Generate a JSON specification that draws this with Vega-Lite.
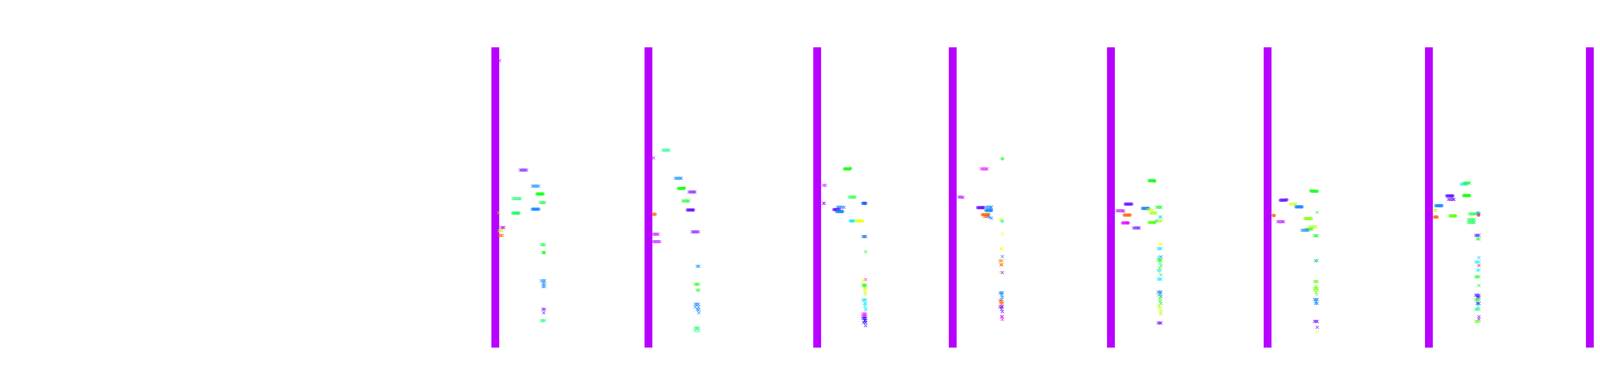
{
  "$schema": "https://vega.github.io/schema/vega-lite/v6.json",
  "width": 6000,
  "height": 1000,
  "autosize": {"type": "fit", "contains": "padding"},
  "padding": 0,
  "background": "white",
  "config": {"view": {"stroke": null}},
  "datasets": {
    "cols": [
      {"x": 1258, "x2": 1278, "y": 121, "y2": 889, "h": 283},
      {"x": 1650, "x2": 1670, "y": 121, "y2": 889, "h": 283},
      {"x": 2082, "x2": 2102, "y": 121, "y2": 889, "h": 283},
      {"x": 2429, "x2": 2449, "y": 121, "y2": 889, "h": 283},
      {"x": 2834, "x2": 2854, "y": 121, "y2": 889, "h": 283},
      {"x": 3235, "x2": 3255, "y": 121, "y2": 889, "h": 283},
      {"x": 3648, "x2": 3668, "y": 121, "y2": 889, "h": 283},
      {"x": 4060, "x2": 4080, "y": 121, "y2": 889, "h": 283},
      {"x": 4473, "x2": 4493, "y": 121, "y2": 889, "h": 283},
      {"x": 4859, "x2": 4879, "y": 121, "y2": 889, "h": 283}
    ],
    "pts": [
      {"x": 1279, "y": 155, "h": 283, "s": "x"},
      {"x": 1332, "y": 435, "h": 265, "s": "x"}, {"x": 1336, "y": 435, "h": 265, "s": "x"}, {"x": 1340, "y": 435, "h": 265, "s": "x"}, {"x": 1344, "y": 435, "h": 265, "s": "x"}, {"x": 1348, "y": 435, "h": 265, "s": "x"},
      {"x": 1363, "y": 476, "h": 210, "s": "x"}, {"x": 1367, "y": 476, "h": 210, "s": "x"}, {"x": 1371, "y": 476, "h": 210, "s": "x"}, {"x": 1375, "y": 476, "h": 210, "s": "x"}, {"x": 1379, "y": 476, "h": 210, "s": "x"},
      {"x": 1375, "y": 496, "h": 120, "s": "o"}, {"x": 1379, "y": 496, "h": 120, "s": "o"}, {"x": 1383, "y": 496, "h": 120, "s": "o"}, {"x": 1387, "y": 496, "h": 120, "s": "o"}, {"x": 1390, "y": 496, "h": 120, "s": "o"},
      {"x": 1313, "y": 508, "h": 145, "s": "x"}, {"x": 1317, "y": 508, "h": 145, "s": "x"}, {"x": 1321, "y": 508, "h": 145, "s": "x"}, {"x": 1325, "y": 508, "h": 145, "s": "x"}, {"x": 1329, "y": 508, "h": 145, "s": "x"}, {"x": 1332, "y": 508, "h": 145, "s": "x"},
      {"x": 1383, "y": 518, "h": 125, "s": "x"}, {"x": 1387, "y": 518, "h": 125, "s": "x"}, {"x": 1391, "y": 518, "h": 125, "s": "x"}, {"x": 1394, "y": 518, "h": 125, "s": "x"},
      {"x": 1363, "y": 535, "h": 210, "s": "o"}, {"x": 1367, "y": 535, "h": 210, "s": "o"}, {"x": 1371, "y": 535, "h": 210, "s": "o"}, {"x": 1375, "y": 535, "h": 210, "s": "o"}, {"x": 1379, "y": 535, "h": 210, "s": "o"},
      {"x": 1277, "y": 544, "h": 75, "s": "x"},
      {"x": 1313, "y": 545, "h": 140, "s": "o"}, {"x": 1317, "y": 545, "h": 140, "s": "o"}, {"x": 1321, "y": 545, "h": 140, "s": "o"}, {"x": 1325, "y": 545, "h": 140, "s": "o"}, {"x": 1328, "y": 545, "h": 140, "s": "o"},
      {"x": 1283, "y": 582, "h": 283, "s": "x"}, {"x": 1287, "y": 582, "h": 283, "s": "x"}, {"x": 1290, "y": 582, "h": 283, "s": "x"},
      {"x": 1278, "y": 590, "h": 75, "s": "x"}, {"x": 1281, "y": 590, "h": 75, "s": "x"}, {"x": 1285, "y": 590, "h": 75, "s": "x"},
      {"x": 1278, "y": 602, "h": 20, "s": "x"}, {"x": 1282, "y": 602, "h": 20, "s": "x"}, {"x": 1286, "y": 602, "h": 20, "s": "x"},
      {"x": 1386, "y": 626, "h": 130, "s": "x"}, {"x": 1390, "y": 626, "h": 130, "s": "x"}, {"x": 1394, "y": 626, "h": 130, "s": "x"},
      {"x": 1390, "y": 646, "h": 120, "s": "x"}, {"x": 1392, "y": 646, "h": 120, "s": "x"}, {"x": 1394, "y": 646, "h": 120, "s": "x"},
      {"x": 1386, "y": 718, "h": 210, "s": "x"}, {"x": 1391, "y": 718, "h": 210, "s": "x"}, {"x": 1394, "y": 718, "h": 210, "s": "x"}, {"x": 1390, "y": 726, "h": 210, "s": "x"}, {"x": 1394, "y": 726, "h": 210, "s": "x"}, {"x": 1390, "y": 733, "h": 210, "s": "x"}, {"x": 1394, "y": 733, "h": 210, "s": "x"},
      {"x": 1390, "y": 791, "h": 265, "s": "x"}, {"x": 1394, "y": 791, "h": 265, "s": "x"}, {"x": 1392, "y": 800, "h": 265, "s": "x"},
      {"x": 1386, "y": 820, "h": 145, "s": "x"}, {"x": 1390, "y": 820, "h": 145, "s": "x"}, {"x": 1394, "y": 820, "h": 145, "s": "x"},

      {"x": 1697, "y": 384, "h": 150, "s": "x"}, {"x": 1701, "y": 384, "h": 150, "s": "x"}, {"x": 1705, "y": 384, "h": 150, "s": "x"}, {"x": 1709, "y": 384, "h": 150, "s": "x"}, {"x": 1713, "y": 384, "h": 150, "s": "x"},
      {"x": 1673, "y": 404, "h": 283, "s": "x"},
      {"x": 1729, "y": 456, "h": 210, "s": "x"}, {"x": 1733, "y": 456, "h": 210, "s": "x"}, {"x": 1737, "y": 456, "h": 210, "s": "x"}, {"x": 1741, "y": 456, "h": 210, "s": "x"}, {"x": 1744, "y": 456, "h": 210, "s": "x"},
      {"x": 1737, "y": 482, "h": 120, "s": "o"}, {"x": 1741, "y": 482, "h": 120, "s": "o"}, {"x": 1745, "y": 482, "h": 120, "s": "o"}, {"x": 1749, "y": 482, "h": 120, "s": "o"}, {"x": 1752, "y": 481, "h": 120, "s": "o"},
      {"x": 1764, "y": 491, "h": 265, "s": "x"}, {"x": 1768, "y": 491, "h": 265, "s": "x"}, {"x": 1772, "y": 491, "h": 265, "s": "x"}, {"x": 1776, "y": 491, "h": 265, "s": "x"}, {"x": 1779, "y": 491, "h": 265, "s": "x"},
      {"x": 1748, "y": 514, "h": 125, "s": "x"}, {"x": 1752, "y": 514, "h": 125, "s": "x"}, {"x": 1756, "y": 514, "h": 125, "s": "x"}, {"x": 1760, "y": 514, "h": 125, "s": "x"}, {"x": 1763, "y": 514, "h": 125, "s": "x"},
      {"x": 1760, "y": 537, "h": 262, "s": "o"}, {"x": 1764, "y": 537, "h": 262, "s": "o"}, {"x": 1768, "y": 537, "h": 262, "s": "o"}, {"x": 1772, "y": 537, "h": 262, "s": "o"}, {"x": 1775, "y": 537, "h": 262, "s": "o"},
      {"x": 1673, "y": 548, "h": 22, "s": "o"}, {"x": 1677, "y": 548, "h": 22, "s": "o"},
      {"x": 1772, "y": 593, "h": 265, "s": "x"}, {"x": 1776, "y": 593, "h": 265, "s": "x"}, {"x": 1780, "y": 593, "h": 265, "s": "x"}, {"x": 1784, "y": 593, "h": 265, "s": "x"}, {"x": 1788, "y": 593, "h": 265, "s": "x"},
      {"x": 1673, "y": 599, "h": 283, "s": "x"}, {"x": 1677, "y": 599, "h": 283, "s": "x"}, {"x": 1681, "y": 599, "h": 283, "s": "x"}, {"x": 1685, "y": 599, "h": 283, "s": "x"},
      {"x": 1673, "y": 618, "h": 283, "s": "x"}, {"x": 1677, "y": 618, "h": 283, "s": "x"}, {"x": 1681, "y": 618, "h": 283, "s": "x"}, {"x": 1685, "y": 618, "h": 283, "s": "x"}, {"x": 1689, "y": 618, "h": 283, "s": "x"},
      {"x": 1785, "y": 681, "h": 210, "s": "x"}, {"x": 1789, "y": 681, "h": 210, "s": "x"},
      {"x": 1780, "y": 727, "h": 120, "s": "x"}, {"x": 1784, "y": 727, "h": 120, "s": "x"}, {"x": 1788, "y": 727, "h": 120, "s": "x"},
      {"x": 1785, "y": 742, "h": 125, "s": "x"}, {"x": 1789, "y": 742, "h": 125, "s": "x"},
      {"x": 1780, "y": 778, "h": 210, "s": "x"}, {"x": 1784, "y": 778, "h": 210, "s": "x"}, {"x": 1788, "y": 778, "h": 210, "s": "x"}, {"x": 1780, "y": 785, "h": 210, "s": "x"}, {"x": 1788, "y": 785, "h": 210, "s": "x"}, {"x": 1785, "y": 792, "h": 210, "s": "x"}, {"x": 1789, "y": 792, "h": 210, "s": "x"}, {"x": 1789, "y": 800, "h": 210, "s": "x"},
      {"x": 1780, "y": 839, "h": 145, "s": "x"}, {"x": 1784, "y": 839, "h": 145, "s": "x"}, {"x": 1788, "y": 839, "h": 145, "s": "x"}, {"x": 1780, "y": 846, "h": 145, "s": "x"}, {"x": 1788, "y": 846, "h": 145, "s": "x"},

      {"x": 2162, "y": 432, "h": 120, "s": "o"}, {"x": 2166, "y": 432, "h": 120, "s": "o"}, {"x": 2170, "y": 432, "h": 120, "s": "o"}, {"x": 2174, "y": 432, "h": 120, "s": "o"}, {"x": 2177, "y": 431, "h": 120, "s": "o"},
      {"x": 2108, "y": 474, "h": 283, "s": "x"}, {"x": 2113, "y": 474, "h": 283, "s": "x"},
      {"x": 2174, "y": 504, "h": 130, "s": "x"}, {"x": 2178, "y": 504, "h": 130, "s": "x"}, {"x": 2182, "y": 504, "h": 130, "s": "x"}, {"x": 2186, "y": 504, "h": 130, "s": "x"}, {"x": 2189, "y": 504, "h": 130, "s": "x"},
      {"x": 2108, "y": 520, "h": 283, "s": "x"}, {"x": 2110, "y": 520, "h": 283, "s": "x"},
      {"x": 2209, "y": 520, "h": 222, "s": "o"}, {"x": 2213, "y": 520, "h": 222, "s": "o"}, {"x": 2216, "y": 520, "h": 222, "s": "o"},
      {"x": 2144, "y": 530, "h": 215, "s": "x"}, {"x": 2148, "y": 530, "h": 215, "s": "x"}, {"x": 2152, "y": 530, "h": 215, "s": "x"}, {"x": 2156, "y": 530, "h": 215, "s": "x"}, {"x": 2161, "y": 530, "h": 215, "s": "x"},
      {"x": 2135, "y": 536, "h": 262, "s": "o"}, {"x": 2139, "y": 536, "h": 262, "s": "o"}, {"x": 2143, "y": 536, "h": 262, "s": "o"}, {"x": 2148, "y": 536, "h": 262, "s": "o"},
      {"x": 2142, "y": 541, "h": 210, "s": "o"}, {"x": 2146, "y": 541, "h": 210, "s": "o"}, {"x": 2150, "y": 541, "h": 210, "s": "o"}, {"x": 2154, "y": 541, "h": 210, "s": "o"}, {"x": 2157, "y": 541, "h": 210, "s": "o"},
      {"x": 2177, "y": 565, "h": 185, "s": "o"}, {"x": 2181, "y": 565, "h": 185, "s": "o"}, {"x": 2185, "y": 565, "h": 185, "s": "o"},
      {"x": 2192, "y": 565, "h": 65, "s": "o"}, {"x": 2196, "y": 565, "h": 65, "s": "o"}, {"x": 2200, "y": 565, "h": 65, "s": "o"}, {"x": 2204, "y": 565, "h": 65, "s": "o"}, {"x": 2208, "y": 565, "h": 65, "s": "o"},
      {"x": 2209, "y": 605, "h": 222, "s": "x"}, {"x": 2213, "y": 605, "h": 222, "s": "x"}, {"x": 2216, "y": 605, "h": 222, "s": "x"},
      {"x": 2216, "y": 644, "h": 130, "s": "x"},
      {"x": 2216, "y": 715, "h": 300, "s": "x"},
      {"x": 2209, "y": 718, "h": 60, "s": "x"}, {"x": 2212, "y": 718, "h": 60, "s": "x"},
      {"x": 2209, "y": 729, "h": 120, "s": "x"}, {"x": 2213, "y": 729, "h": 120, "s": "x"}, {"x": 2216, "y": 729, "h": 120, "s": "x"}, {"x": 2213, "y": 733, "h": 120, "s": "x"},
      {"x": 2213, "y": 738, "h": 70, "s": "x"}, {"x": 2216, "y": 738, "h": 70, "s": "x"}, {"x": 2214, "y": 744, "h": 70, "s": "x"}, {"x": 2216, "y": 749, "h": 70, "s": "x"}, {"x": 2215, "y": 753, "h": 70, "s": "x"},
      {"x": 2209, "y": 767, "h": 188, "s": "x"}, {"x": 2213, "y": 767, "h": 188, "s": "x"}, {"x": 2216, "y": 767, "h": 188, "s": "x"},
      {"x": 2213, "y": 776, "h": 185, "s": "x"}, {"x": 2216, "y": 776, "h": 185, "s": "x"}, {"x": 2214, "y": 782, "h": 185, "s": "x"}, {"x": 2216, "y": 788, "h": 185, "s": "x"}, {"x": 2216, "y": 793, "h": 185, "s": "x"},
      {"x": 2209, "y": 803, "h": 295, "s": "x"}, {"x": 2213, "y": 803, "h": 295, "s": "x"}, {"x": 2216, "y": 803, "h": 295, "s": "x"}, {"x": 2209, "y": 809, "h": 295, "s": "x"}, {"x": 2213, "y": 809, "h": 295, "s": "x"}, {"x": 2216, "y": 809, "h": 295, "s": "x"},
      {"x": 2209, "y": 814, "h": 245, "s": "x"}, {"x": 2213, "y": 814, "h": 245, "s": "x"}, {"x": 2216, "y": 814, "h": 245, "s": "x"}, {"x": 2213, "y": 820, "h": 245, "s": "x"}, {"x": 2216, "y": 820, "h": 245, "s": "x"}, {"x": 2211, "y": 825, "h": 245, "s": "x"}, {"x": 2216, "y": 825, "h": 245, "s": "x"},
      {"x": 2216, "y": 833, "h": 265, "s": "x"},

      {"x": 2566, "y": 406, "h": 125, "s": "o"},
      {"x": 2512, "y": 432, "h": 295, "s": "x"}, {"x": 2516, "y": 432, "h": 295, "s": "x"}, {"x": 2520, "y": 432, "h": 295, "s": "x"}, {"x": 2524, "y": 432, "h": 295, "s": "x"}, {"x": 2527, "y": 432, "h": 295, "s": "x"},
      {"x": 2454, "y": 504, "h": 283, "s": "x"}, {"x": 2458, "y": 504, "h": 283, "s": "x"}, {"x": 2462, "y": 504, "h": 283, "s": "x"}, {"x": 2465, "y": 505, "h": 283, "s": "x"},
      {"x": 2503, "y": 531, "h": 262, "s": "o"}, {"x": 2507, "y": 531, "h": 262, "s": "o"}, {"x": 2511, "y": 531, "h": 262, "s": "o"}, {"x": 2515, "y": 531, "h": 262, "s": "o"}, {"x": 2517, "y": 531, "h": 262, "s": "o"},
      {"x": 2524, "y": 530, "h": 210, "s": "x"}, {"x": 2528, "y": 530, "h": 210, "s": "x"}, {"x": 2532, "y": 530, "h": 210, "s": "x"}, {"x": 2536, "y": 530, "h": 210, "s": "x"}, {"x": 2538, "y": 530, "h": 210, "s": "x"},
      {"x": 2524, "y": 538, "h": 210, "s": "o"}, {"x": 2528, "y": 538, "h": 210, "s": "o"}, {"x": 2532, "y": 538, "h": 210, "s": "o"}, {"x": 2536, "y": 538, "h": 210, "s": "o"}, {"x": 2538, "y": 538, "h": 210, "s": "o"},
      {"x": 2515, "y": 549, "h": 22, "s": "o"}, {"x": 2519, "y": 549, "h": 22, "s": "o"}, {"x": 2523, "y": 549, "h": 22, "s": "o"}, {"x": 2527, "y": 549, "h": 22, "s": "o"}, {"x": 2531, "y": 548, "h": 22, "s": "o"},
      {"x": 2520, "y": 554, "h": 22, "s": "x"}, {"x": 2524, "y": 554, "h": 22, "s": "x"}, {"x": 2528, "y": 554, "h": 22, "s": "x"},
      {"x": 2530, "y": 553, "h": 210, "s": "x"}, {"x": 2534, "y": 556, "h": 210, "s": "x"}, {"x": 2538, "y": 558, "h": 210, "s": "x"},
      {"x": 2562, "y": 563, "h": 60, "s": "o"}, {"x": 2565, "y": 563, "h": 60, "s": "o"},
      {"x": 2566, "y": 566, "h": 180, "s": "o"},
      {"x": 2566, "y": 598, "h": 62, "s": "x"},
      {"x": 2562, "y": 636, "h": 62, "s": "x"}, {"x": 2565, "y": 636, "h": 62, "s": "x"},
      {"x": 2566, "y": 656, "h": 210, "s": "x"},
      {"x": 2560, "y": 667, "h": 25, "s": "x"}, {"x": 2564, "y": 667, "h": 25, "s": "x"}, {"x": 2566, "y": 667, "h": 50, "s": "x"},
      {"x": 2562, "y": 677, "h": 22, "s": "x"}, {"x": 2565, "y": 677, "h": 22, "s": "x"},
      {"x": 2560, "y": 697, "h": 62, "s": "x"}, {"x": 2566, "y": 697, "h": 270, "s": "x"},
      {"x": 2560, "y": 749, "h": 210, "s": "x"}, {"x": 2564, "y": 749, "h": 210, "s": "x"}, {"x": 2566, "y": 749, "h": 210, "s": "x"}, {"x": 2564, "y": 755, "h": 210, "s": "x"}, {"x": 2566, "y": 760, "h": 210, "s": "x"}, {"x": 2564, "y": 766, "h": 210, "s": "x"},
      {"x": 2560, "y": 768, "h": 20, "s": "x"}, {"x": 2562, "y": 772, "h": 20, "s": "x"}, {"x": 2566, "y": 772, "h": 20, "s": "x"}, {"x": 2562, "y": 777, "h": 20, "s": "x"}, {"x": 2566, "y": 777, "h": 20, "s": "x"},
      {"x": 2560, "y": 785, "h": 265, "s": "x"}, {"x": 2564, "y": 785, "h": 265, "s": "x"}, {"x": 2566, "y": 785, "h": 265, "s": "x"}, {"x": 2564, "y": 791, "h": 265, "s": "x"}, {"x": 2566, "y": 797, "h": 265, "s": "x"},
      {"x": 2564, "y": 810, "h": 295, "s": "x"}, {"x": 2566, "y": 810, "h": 295, "s": "x"}, {"x": 2566, "y": 817, "h": 295, "s": "x"},

      {"x": 2942, "y": 462, "h": 120, "s": "o"}, {"x": 2946, "y": 462, "h": 120, "s": "o"}, {"x": 2950, "y": 462, "h": 120, "s": "o"}, {"x": 2954, "y": 462, "h": 120, "s": "o"}, {"x": 2956, "y": 463, "h": 120, "s": "o"},
      {"x": 2881, "y": 522, "h": 262, "s": "o"}, {"x": 2885, "y": 522, "h": 262, "s": "o"}, {"x": 2889, "y": 522, "h": 262, "s": "o"}, {"x": 2893, "y": 522, "h": 262, "s": "o"}, {"x": 2897, "y": 522, "h": 262, "s": "o"},
      {"x": 2925, "y": 533, "h": 212, "s": "o"}, {"x": 2929, "y": 533, "h": 212, "s": "o"}, {"x": 2933, "y": 533, "h": 212, "s": "o"}, {"x": 2937, "y": 533, "h": 212, "s": "o"}, {"x": 2940, "y": 533, "h": 212, "s": "o"},
      {"x": 2961, "y": 530, "h": 125, "s": "x"}, {"x": 2965, "y": 530, "h": 125, "s": "x"}, {"x": 2969, "y": 530, "h": 125, "s": "x"}, {"x": 2972, "y": 530, "h": 125, "s": "x"},
      {"x": 2859, "y": 539, "h": 283, "s": "x"}, {"x": 2863, "y": 539, "h": 283, "s": "x"}, {"x": 2867, "y": 539, "h": 283, "s": "x"}, {"x": 2871, "y": 539, "h": 283, "s": "x"}, {"x": 2874, "y": 539, "h": 283, "s": "x"}, {"x": 2877, "y": 540, "h": 283, "s": "x"},
      {"x": 2938, "y": 536, "h": 75, "s": "x"}, {"x": 2942, "y": 536, "h": 75, "s": "x"}, {"x": 2946, "y": 536, "h": 75, "s": "x"}, {"x": 2951, "y": 537, "h": 75, "s": "x"},
      {"x": 2945, "y": 545, "h": 85, "s": "x"}, {"x": 2949, "y": 545, "h": 85, "s": "x"}, {"x": 2953, "y": 545, "h": 85, "s": "x"}, {"x": 2957, "y": 545, "h": 85, "s": "x"}, {"x": 2959, "y": 545, "h": 85, "s": "x"},
      {"x": 2878, "y": 550, "h": 22, "s": "o"}, {"x": 2882, "y": 550, "h": 22, "s": "o"}, {"x": 2886, "y": 550, "h": 22, "s": "o"}, {"x": 2890, "y": 550, "h": 22, "s": "o"}, {"x": 2893, "y": 550, "h": 22, "s": "o"},
      {"x": 2969, "y": 555, "h": 188, "s": "x"}, {"x": 2972, "y": 555, "h": 188, "s": "x"},
      {"x": 2961, "y": 565, "h": 185, "s": "o"}, {"x": 2967, "y": 565, "h": 75, "s": "o"}, {"x": 2972, "y": 565, "h": 75, "s": "o"},
      {"x": 2874, "y": 570, "h": 295, "s": "o"}, {"x": 2878, "y": 570, "h": 295, "s": "o"}, {"x": 2882, "y": 570, "h": 295, "s": "o"}, {"x": 2886, "y": 570, "h": 295, "s": "o"}, {"x": 2888, "y": 570, "h": 295, "s": "o"},
      {"x": 2942, "y": 569, "h": 100, "s": "o"}, {"x": 2946, "y": 569, "h": 100, "s": "o"}, {"x": 2950, "y": 569, "h": 100, "s": "o"}, {"x": 2954, "y": 569, "h": 100, "s": "o"}, {"x": 2956, "y": 569, "h": 100, "s": "o"},
      {"x": 2902, "y": 583, "h": 262, "s": "x"}, {"x": 2906, "y": 583, "h": 262, "s": "x"}, {"x": 2910, "y": 583, "h": 262, "s": "x"}, {"x": 2914, "y": 583, "h": 262, "s": "x"}, {"x": 2916, "y": 583, "h": 262, "s": "x"},
      {"x": 2969, "y": 624, "h": 60, "s": "x"}, {"x": 2972, "y": 624, "h": 60, "s": "x"},
      {"x": 2965, "y": 636, "h": 185, "s": "x"}, {"x": 2969, "y": 636, "h": 185, "s": "x"}, {"x": 2972, "y": 636, "h": 185, "s": "x"},
      {"x": 2966, "y": 658, "h": 185, "s": "x"}, {"x": 2972, "y": 657, "h": 215, "s": "x"},
      {"x": 2965, "y": 665, "h": 125, "s": "x"}, {"x": 2969, "y": 665, "h": 125, "s": "x"}, {"x": 2972, "y": 665, "h": 125, "s": "x"}, {"x": 2970, "y": 672, "h": 125, "s": "x"}, {"x": 2972, "y": 679, "h": 125, "s": "x"}, {"x": 2969, "y": 686, "h": 125, "s": "x"},
      {"x": 2965, "y": 692, "h": 185, "s": "x"}, {"x": 2970, "y": 692, "h": 185, "s": "x"},
      {"x": 2968, "y": 698, "h": 62, "s": "x"}, {"x": 2972, "y": 703, "h": 188, "s": "x"},
      {"x": 2965, "y": 714, "h": 185, "s": "x"}, {"x": 2969, "y": 714, "h": 185, "s": "x"}, {"x": 2972, "y": 714, "h": 185, "s": "x"},
      {"x": 2965, "y": 747, "h": 210, "s": "x"}, {"x": 2969, "y": 747, "h": 210, "s": "x"}, {"x": 2972, "y": 747, "h": 210, "s": "x"}, {"x": 2970, "y": 752, "h": 210, "s": "x"}, {"x": 2966, "y": 755, "h": 115, "s": "x"}, {"x": 2972, "y": 758, "h": 210, "s": "x"}, {"x": 2970, "y": 764, "h": 125, "s": "x"},
      {"x": 2970, "y": 770, "h": 120, "s": "x"}, {"x": 2972, "y": 776, "h": 120, "s": "x"},
      {"x": 2965, "y": 783, "h": 75, "s": "x"}, {"x": 2969, "y": 783, "h": 75, "s": "x"}, {"x": 2970, "y": 789, "h": 75, "s": "x"}, {"x": 2972, "y": 795, "h": 75, "s": "x"}, {"x": 2971, "y": 800, "h": 75, "s": "x"}, {"x": 2972, "y": 804, "h": 75, "s": "x"},
      {"x": 2965, "y": 826, "h": 262, "s": "x"}, {"x": 2969, "y": 826, "h": 262, "s": "x"}, {"x": 2972, "y": 826, "h": 262, "s": "x"},

      {"x": 3356, "y": 488, "h": 120, "s": "o"}, {"x": 3360, "y": 489, "h": 120, "s": "o"}, {"x": 3364, "y": 489, "h": 120, "s": "o"}, {"x": 3368, "y": 489, "h": 120, "s": "o"}, {"x": 3372, "y": 489, "h": 120, "s": "o"},
      {"x": 3278, "y": 512, "h": 262, "s": "o"}, {"x": 3282, "y": 512, "h": 262, "s": "o"}, {"x": 3286, "y": 512, "h": 262, "s": "o"}, {"x": 3290, "y": 512, "h": 262, "s": "o"}, {"x": 3294, "y": 511, "h": 262, "s": "o"},
      {"x": 3303, "y": 522, "h": 72, "s": "x"}, {"x": 3307, "y": 522, "h": 72, "s": "x"}, {"x": 3311, "y": 522, "h": 72, "s": "x"}, {"x": 3315, "y": 522, "h": 72, "s": "x"}, {"x": 3317, "y": 522, "h": 72, "s": "x"},
      {"x": 3318, "y": 529, "h": 210, "s": "o"}, {"x": 3322, "y": 529, "h": 210, "s": "o"}, {"x": 3326, "y": 529, "h": 210, "s": "o"}, {"x": 3330, "y": 529, "h": 210, "s": "o"}, {"x": 3333, "y": 529, "h": 210, "s": "o"},
      {"x": 3372, "y": 543, "h": 125, "s": "x"},
      {"x": 3259, "y": 551, "h": 22, "s": "o"}, {"x": 3262, "y": 551, "h": 22, "s": "o"},
      {"x": 3341, "y": 559, "h": 90, "s": "o"}, {"x": 3345, "y": 559, "h": 90, "s": "o"}, {"x": 3349, "y": 559, "h": 90, "s": "o"}, {"x": 3353, "y": 559, "h": 90, "s": "o"}, {"x": 3357, "y": 559, "h": 90, "s": "o"},
      {"x": 3271, "y": 567, "h": 283, "s": "x"}, {"x": 3275, "y": 567, "h": 283, "s": "x"}, {"x": 3279, "y": 567, "h": 283, "s": "x"}, {"x": 3283, "y": 567, "h": 283, "s": "x"}, {"x": 3286, "y": 567, "h": 283, "s": "x"},
      {"x": 3353, "y": 580, "h": 80, "s": "x"}, {"x": 3357, "y": 580, "h": 80, "s": "x"}, {"x": 3361, "y": 580, "h": 80, "s": "x"}, {"x": 3365, "y": 580, "h": 80, "s": "x"}, {"x": 3369, "y": 580, "h": 80, "s": "x"},
      {"x": 3344, "y": 586, "h": 110, "s": "x"}, {"x": 3348, "y": 586, "h": 110, "s": "x"}, {"x": 3352, "y": 586, "h": 110, "s": "x"}, {"x": 3356, "y": 586, "h": 110, "s": "x"}, {"x": 3359, "y": 586, "h": 110, "s": "x"},
      {"x": 3333, "y": 589, "h": 210, "s": "x"}, {"x": 3337, "y": 589, "h": 210, "s": "x"}, {"x": 3341, "y": 589, "h": 210, "s": "x"}, {"x": 3345, "y": 589, "h": 210, "s": "x"}, {"x": 3349, "y": 589, "h": 210, "s": "x"},
      {"x": 3365, "y": 603, "h": 125, "s": "x"}, {"x": 3369, "y": 603, "h": 125, "s": "x"}, {"x": 3372, "y": 603, "h": 125, "s": "x"},
      {"x": 3368, "y": 667, "h": 210, "s": "x"}, {"x": 3372, "y": 666, "h": 125, "s": "x"},
      {"x": 3365, "y": 720, "h": 100, "s": "x"}, {"x": 3369, "y": 720, "h": 100, "s": "x"}, {"x": 3372, "y": 720, "h": 100, "s": "x"},
      {"x": 3369, "y": 732, "h": 95, "s": "x"}, {"x": 3365, "y": 737, "h": 95, "s": "x"}, {"x": 3369, "y": 737, "h": 95, "s": "x"}, {"x": 3372, "y": 737, "h": 95, "s": "x"}, {"x": 3365, "y": 742, "h": 95, "s": "x"}, {"x": 3372, "y": 742, "h": 95, "s": "x"}, {"x": 3369, "y": 748, "h": 95, "s": "x"}, {"x": 3371, "y": 753, "h": 95, "s": "x"},
      {"x": 3365, "y": 766, "h": 210, "s": "x"}, {"x": 3369, "y": 766, "h": 210, "s": "x"}, {"x": 3372, "y": 766, "h": 210, "s": "x"}, {"x": 3369, "y": 771, "h": 210, "s": "x"}, {"x": 3368, "y": 776, "h": 210, "s": "x"}, {"x": 3372, "y": 776, "h": 210, "s": "x"},
      {"x": 3365, "y": 822, "h": 265, "s": "x"}, {"x": 3369, "y": 822, "h": 265, "s": "x"}, {"x": 3372, "y": 822, "h": 265, "s": "x"},
      {"x": 3372, "y": 837, "h": 265, "s": "x"},
      {"x": 3372, "y": 848, "h": 65, "s": "x"},

      {"x": 3740, "y": 471, "h": 185, "s": "x"}, {"x": 3744, "y": 471, "h": 185, "s": "x"}, {"x": 3748, "y": 471, "h": 185, "s": "x"}, {"x": 3752, "y": 471, "h": 185, "s": "x"}, {"x": 3754, "y": 471, "h": 185, "s": "x"},
      {"x": 3748, "y": 468, "h": 125, "s": "x"}, {"x": 3752, "y": 468, "h": 125, "s": "x"}, {"x": 3756, "y": 468, "h": 125, "s": "x"}, {"x": 3760, "y": 468, "h": 125, "s": "x"}, {"x": 3762, "y": 468, "h": 125, "s": "x"},
      {"x": 3704, "y": 501, "h": 262, "s": "o"}, {"x": 3708, "y": 501, "h": 262, "s": "o"}, {"x": 3712, "y": 501, "h": 262, "s": "o"}, {"x": 3716, "y": 501, "h": 262, "s": "o"}, {"x": 3719, "y": 501, "h": 262, "s": "o"},
      {"x": 3747, "y": 500, "h": 120, "s": "o"}, {"x": 3751, "y": 500, "h": 120, "s": "o"}, {"x": 3755, "y": 500, "h": 120, "s": "o"}, {"x": 3759, "y": 500, "h": 120, "s": "o"}, {"x": 3762, "y": 500, "h": 120, "s": "o"},
      {"x": 3708, "y": 510, "h": 265, "s": "x"}, {"x": 3712, "y": 510, "h": 265, "s": "x"}, {"x": 3716, "y": 510, "h": 265, "s": "x"}, {"x": 3720, "y": 510, "h": 265, "s": "x"}, {"x": 3722, "y": 510, "h": 265, "s": "x"},
      {"x": 3676, "y": 526, "h": 210, "s": "o"}, {"x": 3680, "y": 526, "h": 210, "s": "o"}, {"x": 3684, "y": 526, "h": 210, "s": "o"}, {"x": 3688, "y": 526, "h": 210, "s": "o"}, {"x": 3691, "y": 526, "h": 210, "s": "o"},
      {"x": 3673, "y": 538, "h": 72, "s": "x"}, {"x": 3676, "y": 538, "h": 72, "s": "x"},
      {"x": 3672, "y": 555, "h": 22, "s": "o"}, {"x": 3676, "y": 555, "h": 22, "s": "o"}, {"x": 3679, "y": 555, "h": 22, "s": "o"},
      {"x": 3712, "y": 552, "h": 100, "s": "o"}, {"x": 3716, "y": 552, "h": 100, "s": "o"}, {"x": 3720, "y": 552, "h": 100, "s": "o"}, {"x": 3724, "y": 552, "h": 100, "s": "o"}, {"x": 3726, "y": 552, "h": 100, "s": "o"},
      {"x": 3762, "y": 547, "h": 125, "s": "x"}, {"x": 3766, "y": 547, "h": 125, "s": "x"}, {"x": 3770, "y": 547, "h": 125, "s": "x"}, {"x": 3774, "y": 547, "h": 125, "s": "x"}, {"x": 3776, "y": 547, "h": 125, "s": "x"},
      {"x": 3782, "y": 545, "h": 195, "s": "o"}, {"x": 3786, "y": 545, "h": 195, "s": "o"},
      {"x": 3785, "y": 550, "h": 355, "s": "o"},
      {"x": 3759, "y": 562, "h": 135, "s": "x"}, {"x": 3763, "y": 562, "h": 135, "s": "x"}, {"x": 3767, "y": 562, "h": 135, "s": "x"}, {"x": 3771, "y": 562, "h": 135, "s": "x"}, {"x": 3774, "y": 562, "h": 135, "s": "x"},
      {"x": 3759, "y": 569, "h": 135, "s": "x"}, {"x": 3763, "y": 569, "h": 135, "s": "x"}, {"x": 3767, "y": 569, "h": 135, "s": "x"}, {"x": 3771, "y": 569, "h": 135, "s": "x"}, {"x": 3774, "y": 569, "h": 135, "s": "x"},
      {"x": 3778, "y": 602, "h": 250, "s": "x"}, {"x": 3782, "y": 602, "h": 250, "s": "x"}, {"x": 3786, "y": 602, "h": 250, "s": "x"},
      {"x": 3782, "y": 611, "h": 125, "s": "x"}, {"x": 3786, "y": 611, "h": 125, "s": "x"},
      {"x": 3786, "y": 659, "h": 195, "s": "x"},
      {"x": 3778, "y": 670, "h": 185, "s": "x"}, {"x": 3782, "y": 670, "h": 185, "s": "x"}, {"x": 3786, "y": 670, "h": 185, "s": "x"},
      {"x": 3786, "y": 679, "h": 355, "s": "x"},
      {"x": 3782, "y": 691, "h": 185, "s": "x"}, {"x": 3786, "y": 691, "h": 185, "s": "x"},
      {"x": 3778, "y": 708, "h": 125, "s": "x"}, {"x": 3782, "y": 708, "h": 125, "s": "x"}, {"x": 3786, "y": 708, "h": 125, "s": "x"},
      {"x": 3786, "y": 730, "h": 120, "s": "x"},
      {"x": 3778, "y": 755, "h": 250, "s": "x"}, {"x": 3782, "y": 755, "h": 250, "s": "x"}, {"x": 3786, "y": 755, "h": 250, "s": "x"}, {"x": 3782, "y": 760, "h": 250, "s": "x"}, {"x": 3786, "y": 760, "h": 250, "s": "x"},
      {"x": 3778, "y": 767, "h": 125, "s": "x"}, {"x": 3782, "y": 767, "h": 125, "s": "x"}, {"x": 3786, "y": 767, "h": 125, "s": "x"},
      {"x": 3782, "y": 776, "h": 240, "s": "x"}, {"x": 3786, "y": 776, "h": 240, "s": "x"},
      {"x": 3784, "y": 784, "h": 185, "s": "x"},
      {"x": 3778, "y": 791, "h": 140, "s": "x"}, {"x": 3782, "y": 791, "h": 140, "s": "x"}, {"x": 3786, "y": 791, "h": 140, "s": "x"},
      {"x": 3786, "y": 810, "h": 265, "s": "x"}, {"x": 3786, "y": 816, "h": 265, "s": "x"},
      {"x": 3778, "y": 822, "h": 100, "s": "x"}, {"x": 3782, "y": 822, "h": 100, "s": "x"}, {"x": 3786, "y": 822, "h": 100, "s": "x"},

      {"x": 4104, "y": 457, "h": 125, "s": "x"}, {"x": 4108, "y": 457, "h": 125, "s": "x"}, {"x": 4112, "y": 457, "h": 125, "s": "x"}, {"x": 4116, "y": 457, "h": 125, "s": "x"}, {"x": 4118, "y": 457, "h": 125, "s": "x"},
      {"x": 4163, "y": 466, "h": 130, "s": "x"}, {"x": 4167, "y": 466, "h": 130, "s": "x"}, {"x": 4171, "y": 466, "h": 130, "s": "x"}, {"x": 4174, "y": 466, "h": 130, "s": "x"},
      {"x": 4194, "y": 497, "h": 355, "s": "x"},
      {"x": 4104, "y": 506, "h": 120, "s": "o"}, {"x": 4108, "y": 506, "h": 120, "s": "o"}, {"x": 4112, "y": 506, "h": 120, "s": "o"}, {"x": 4116, "y": 505, "h": 120, "s": "o"}, {"x": 4118, "y": 505, "h": 120, "s": "o"},
      {"x": 4112, "y": 518, "h": 185, "s": "x"}, {"x": 4116, "y": 518, "h": 185, "s": "x"}, {"x": 4120, "y": 518, "h": 185, "s": "x"}, {"x": 4124, "y": 518, "h": 185, "s": "x"}, {"x": 4126, "y": 518, "h": 185, "s": "x"},
      {"x": 4186, "y": 523, "h": 355, "s": "o"}, {"x": 4190, "y": 522, "h": 355, "s": "o"}, {"x": 4193, "y": 522, "h": 355, "s": "o"},
      {"x": 4135, "y": 541, "h": 355, "s": "o"}, {"x": 4139, "y": 541, "h": 355, "s": "o"}, {"x": 4143, "y": 541, "h": 355, "s": "o"}, {"x": 4147, "y": 541, "h": 355, "s": "o"}, {"x": 4150, "y": 541, "h": 355, "s": "o"},
      {"x": 4167, "y": 544, "h": 130, "s": "x"}, {"x": 4171, "y": 544, "h": 130, "s": "x"}, {"x": 4174, "y": 544, "h": 130, "s": "x"},
      {"x": 4179, "y": 576, "h": 62, "s": "o"}, {"x": 4183, "y": 576, "h": 62, "s": "o"}, {"x": 4187, "y": 576, "h": 62, "s": "o"}, {"x": 4191, "y": 576, "h": 62, "s": "o"}, {"x": 4193, "y": 576, "h": 62, "s": "o"},
      {"x": 4190, "y": 611, "h": 62, "s": "x"}, {"x": 4193, "y": 611, "h": 62, "s": "x"},
      {"x": 4186, "y": 625, "h": 355, "s": "x"}, {"x": 4190, "y": 625, "h": 355, "s": "x"}, {"x": 4193, "y": 625, "h": 355, "s": "x"},
      {"x": 4190, "y": 649, "h": 358, "s": "x"}, {"x": 4193, "y": 649, "h": 358, "s": "x"}, {"x": 4192, "y": 649, "h": 358, "s": "x"},
      {"x": 4190, "y": 703, "h": 62, "s": "x"}, {"x": 4193, "y": 703, "h": 62, "s": "x"}, {"x": 4192, "y": 708, "h": 62, "s": "x"}, {"x": 4186, "y": 713, "h": 62, "s": "x"}, {"x": 4193, "y": 713, "h": 62, "s": "x"}, {"x": 4190, "y": 718, "h": 62, "s": "x"}, {"x": 4186, "y": 723, "h": 62, "s": "x"}, {"x": 4193, "y": 723, "h": 62, "s": "x"}, {"x": 4190, "y": 728, "h": 62, "s": "x"}, {"x": 4193, "y": 733, "h": 62, "s": "x"}, {"x": 4191, "y": 738, "h": 62, "s": "x"}, {"x": 4193, "y": 743, "h": 62, "s": "x"}, {"x": 4190, "y": 749, "h": 62, "s": "x"}, {"x": 4193, "y": 753, "h": 62, "s": "x"},
      {"x": 4186, "y": 787, "h": 255, "s": "x"}, {"x": 4190, "y": 787, "h": 255, "s": "x"}, {"x": 4193, "y": 787, "h": 255, "s": "x"}, {"x": 4186, "y": 793, "h": 255, "s": "x"}, {"x": 4193, "y": 793, "h": 255, "s": "x"}, {"x": 4190, "y": 790, "h": 340, "s": "x"}, {"x": 4192, "y": 796, "h": 340, "s": "x"},
      {"x": 4192, "y": 804, "h": 125, "s": "x"},
      {"x": 4188, "y": 820, "h": 125, "s": "x"}, {"x": 4192, "y": 820, "h": 125, "s": "x"}, {"x": 4190, "y": 826, "h": 125, "s": "x"}, {"x": 4193, "y": 833, "h": 125, "s": "x"},
      {"x": 4193, "y": 848, "h": 185, "s": "x"},
      {"x": 4186, "y": 855, "h": 280, "s": "x"}, {"x": 4190, "y": 855, "h": 280, "s": "x"}, {"x": 4193, "y": 855, "h": 280, "s": "x"},

      {"x": 4526, "y": 336, "h": 130, "s": "x"}, {"x": 4530, "y": 336, "h": 130, "s": "x"}, {"x": 4532, "y": 336, "h": 130, "s": "x"},
      {"x": 4560, "y": 390, "h": 355, "s": "x"}, {"x": 4564, "y": 390, "h": 355, "s": "x"}, {"x": 4568, "y": 390, "h": 355, "s": "x"}, {"x": 4572, "y": 390, "h": 355, "s": "x"}, {"x": 4575, "y": 390, "h": 355, "s": "x"},
      {"x": 4580, "y": 459, "h": 42, "s": "o"}, {"x": 4584, "y": 458, "h": 42, "s": "o"}, {"x": 4588, "y": 458, "h": 42, "s": "o"}, {"x": 4592, "y": 458, "h": 42, "s": "o"}, {"x": 4594, "y": 458, "h": 42, "s": "o"},
      {"x": 4607, "y": 483, "h": 240, "s": "x"},
      {"x": 4603, "y": 503, "h": 240, "s": "x"}, {"x": 4607, "y": 503, "h": 240, "s": "x"},
      {"x": 4604, "y": 516, "h": 235, "s": "o"}, {"x": 4607, "y": 516, "h": 235, "s": "o"},
      {"x": 4494, "y": 510, "h": 120, "s": "o"}, {"x": 4498, "y": 510, "h": 120, "s": "o"}, {"x": 4502, "y": 510, "h": 120, "s": "o"}, {"x": 4504, "y": 510, "h": 120, "s": "o"},
      {"x": 4560, "y": 520, "h": 355, "s": "o"}, {"x": 4564, "y": 520, "h": 355, "s": "o"}, {"x": 4568, "y": 520, "h": 355, "s": "o"}, {"x": 4572, "y": 520, "h": 355, "s": "o"}, {"x": 4575, "y": 520, "h": 355, "s": "o"},
      {"x": 4573, "y": 540, "h": 250, "s": "x"}, {"x": 4577, "y": 540, "h": 250, "s": "x"}, {"x": 4581, "y": 540, "h": 250, "s": "x"}, {"x": 4585, "y": 540, "h": 250, "s": "x"}, {"x": 4587, "y": 540, "h": 250, "s": "x"},
      {"x": 4581, "y": 545, "h": 185, "s": "x"}, {"x": 4585, "y": 545, "h": 185, "s": "x"}, {"x": 4589, "y": 545, "h": 185, "s": "x"}, {"x": 4593, "y": 545, "h": 185, "s": "x"}, {"x": 4594, "y": 545, "h": 185, "s": "x"},
      {"x": 4604, "y": 547, "h": 205, "s": "o"}, {"x": 4607, "y": 547, "h": 205, "s": "o"},
      {"x": 4600, "y": 556, "h": 150, "s": "o"}, {"x": 4604, "y": 556, "h": 150, "s": "o"}, {"x": 4607, "y": 556, "h": 150, "s": "o"},
      {"x": 4607, "y": 616, "h": 240, "s": "x"},
      {"x": 4603, "y": 626, "h": 240, "s": "x"}, {"x": 4607, "y": 626, "h": 240, "s": "x"},
      {"x": 4600, "y": 637, "h": 42, "s": "x"}, {"x": 4604, "y": 637, "h": 42, "s": "x"}, {"x": 4607, "y": 637, "h": 185, "s": "x"},
      {"x": 4602, "y": 662, "h": 42, "s": "x"}, {"x": 4607, "y": 662, "h": 42, "s": "x"},
      {"x": 4607, "y": 671, "h": 40, "s": "x"},
      {"x": 4607, "y": 682, "h": 150, "s": "x"}, {"x": 4600, "y": 687, "h": 150, "s": "x"}, {"x": 4604, "y": 687, "h": 170, "s": "x"}, {"x": 4607, "y": 693, "h": 170, "s": "x"}, {"x": 4604, "y": 699, "h": 150, "s": "x"}, {"x": 4607, "y": 705, "h": 160, "s": "x"},
      {"x": 4600, "y": 711, "h": 62, "s": "x"}, {"x": 4604, "y": 711, "h": 62, "s": "x"}, {"x": 4607, "y": 711, "h": 62, "s": "x"},
      {"x": 4600, "y": 753, "h": 125, "s": "x"}, {"x": 4604, "y": 753, "h": 125, "s": "x"}, {"x": 4607, "y": 759, "h": 355, "s": "x"},
      {"x": 4604, "y": 772, "h": 185, "s": "x"}, {"x": 4607, "y": 772, "h": 185, "s": "x"}, {"x": 4603, "y": 777, "h": 185, "s": "x"}, {"x": 4600, "y": 783, "h": 185, "s": "x"}, {"x": 4607, "y": 783, "h": 185, "s": "x"},
      {"x": 4600, "y": 789, "h": 230, "s": "x"}, {"x": 4604, "y": 789, "h": 230, "s": "x"}, {"x": 4607, "y": 789, "h": 230, "s": "x"},
      {"x": 4600, "y": 806, "h": 355, "s": "x"}, {"x": 4604, "y": 806, "h": 355, "s": "x"}, {"x": 4607, "y": 806, "h": 355, "s": "x"},
      {"x": 4607, "y": 858, "h": 283, "s": "x"},
      {"x": 4600, "y": 861, "h": 125, "s": "x"}, {"x": 4604, "y": 861, "h": 125, "s": "x"}, {"x": 4607, "y": 862, "h": 125, "s": "x"},

      {"x": 4996, "y": 402, "h": 240, "s": "x"},
      {"x": 4911, "y": 420, "h": 355, "s": "x"}, {"x": 4915, "y": 420, "h": 355, "s": "x"}, {"x": 4919, "y": 420, "h": 355, "s": "x"}, {"x": 4923, "y": 420, "h": 355, "s": "x"}, {"x": 4924, "y": 420, "h": 355, "s": "x"},
      {"x": 4950, "y": 461, "h": 42, "s": "o"}, {"x": 4954, "y": 461, "h": 42, "s": "o"}, {"x": 4958, "y": 461, "h": 42, "s": "o"}, {"x": 4962, "y": 461, "h": 42, "s": "o"}, {"x": 4964, "y": 461, "h": 42, "s": "o"},
      {"x": 4883, "y": 518, "h": 120, "s": "o"}, {"x": 4887, "y": 517, "h": 120, "s": "o"}, {"x": 4891, "y": 517, "h": 120, "s": "o"},
      {"x": 4941, "y": 515, "h": 245, "s": "x"}, {"x": 4945, "y": 515, "h": 245, "s": "x"}, {"x": 4949, "y": 515, "h": 245, "s": "x"}, {"x": 4953, "y": 515, "h": 245, "s": "x"}, {"x": 4955, "y": 515, "h": 245, "s": "x"},
      {"x": 4950, "y": 519, "h": 350, "s": "x"}, {"x": 4954, "y": 519, "h": 350, "s": "x"}, {"x": 4958, "y": 519, "h": 350, "s": "x"}, {"x": 4960, "y": 519, "h": 350, "s": "x"},
      {"x": 4996, "y": 524, "h": 235, "s": "o"},
      {"x": 4992, "y": 547, "h": 200, "s": "o"}, {"x": 4996, "y": 547, "h": 200, "s": "o"},
      {"x": 4946, "y": 558, "h": 150, "s": "o"}, {"x": 4950, "y": 559, "h": 150, "s": "o"}, {"x": 4954, "y": 559, "h": 150, "s": "o"}, {"x": 4958, "y": 559, "h": 150, "s": "o"}, {"x": 4960, "y": 559, "h": 150, "s": "o"},
      {"x": 4977, "y": 564, "h": 42, "s": "x"}, {"x": 4981, "y": 564, "h": 42, "s": "x"}, {"x": 4985, "y": 564, "h": 42, "s": "x"},
      {"x": 4983, "y": 565, "h": 165, "s": "x"}, {"x": 4987, "y": 565, "h": 165, "s": "x"}, {"x": 4991, "y": 565, "h": 165, "s": "x"}, {"x": 4995, "y": 565, "h": 165, "s": "x"},
      {"x": 4996, "y": 585, "h": 240, "s": "x"},
      {"x": 4990, "y": 636, "h": 200, "s": "x"}, {"x": 4994, "y": 636, "h": 200, "s": "x"},
      {"x": 4996, "y": 683, "h": 200, "s": "x"}, {"x": 4996, "y": 686, "h": 150, "s": "x"},
      {"x": 4988, "y": 711, "h": 42, "s": "x"}, {"x": 4992, "y": 711, "h": 42, "s": "x"}, {"x": 4996, "y": 711, "h": 42, "s": "x"},
      {"x": 4988, "y": 715, "h": 170, "s": "x"}, {"x": 4992, "y": 715, "h": 170, "s": "x"}, {"x": 4996, "y": 715, "h": 170, "s": "x"},
      {"x": 4993, "y": 723, "h": 45, "s": "x"}, {"x": 4992, "y": 729, "h": 250, "s": "x"}, {"x": 4996, "y": 729, "h": 250, "s": "x"},
      {"x": 4992, "y": 745, "h": 175, "s": "x"}, {"x": 4996, "y": 745, "h": 175, "s": "x"}, {"x": 4994, "y": 750, "h": 175, "s": "x"}, {"x": 4992, "y": 756, "h": 175, "s": "x"}, {"x": 4996, "y": 756, "h": 175, "s": "x"}, {"x": 4990, "y": 762, "h": 175, "s": "x"}, {"x": 4996, "y": 762, "h": 175, "s": "x"}, {"x": 4992, "y": 768, "h": 175, "s": "x"}, {"x": 4994, "y": 773, "h": 175, "s": "x"}, {"x": 4996, "y": 773, "h": 175, "s": "x"}, {"x": 4990, "y": 778, "h": 175, "s": "x"}, {"x": 4994, "y": 778, "h": 350, "s": "x"},
      {"x": 4988, "y": 818, "h": 355, "s": "x"}, {"x": 4992, "y": 818, "h": 355, "s": "x"}, {"x": 4996, "y": 818, "h": 355, "s": "x"},
      {"x": 4988, "y": 830, "h": 245, "s": "x"}, {"x": 4992, "y": 830, "h": 245, "s": "x"}, {"x": 4996, "y": 830, "h": 245, "s": "x"},
      {"x": 4988, "y": 857, "h": 283, "s": "x"}, {"x": 4992, "y": 857, "h": 283, "s": "x"}, {"x": 4996, "y": 857, "h": 283, "s": "x"},
      {"x": 4988, "y": 862, "h": 120, "s": "x"}, {"x": 4992, "y": 862, "h": 120, "s": "x"}, {"x": 4996, "y": 862, "h": 120, "s": "x"}
    ]
  },
  "layer": [
    {
      "data": {"name": "cols"},
      "mark": {"type": "rect"},
      "encoding": {
        "x": {"field": "x", "type": "quantitative", "scale": {"domain": [0, 6000], "nice": false, "zero": false}, "axis": null},
        "x2": {"field": "x2"},
        "y": {"field": "y", "type": "quantitative", "scale": {"domain": [0, 1000], "reverse": true, "nice": false, "zero": false}, "axis": null},
        "y2": {"field": "y2"},
        "color": {
          "field": "h",
          "type": "quantitative",
          "scale": {
            "domain": [0, 60, 120, 180, 240, 300, 360],
            "range": ["#ff0000", "#ffff00", "#00ff00", "#00ffff", "#0000ff", "#ff00ff", "#ff0000"],
            "interpolate": "hsl"
          },
          "legend": null
        }
      }
    },
    {
      "data": {"name": "pts"},
      "mark": {"type": "point", "filled": true, "opacity": 0.62, "size": 85, "strokeWidth": 0},
      "encoding": {
        "x": {"field": "x", "type": "quantitative"},
        "y": {"field": "y", "type": "quantitative"},
        "color": {"field": "h", "type": "quantitative"},
        "shape": {
          "field": "s",
          "type": "nominal",
          "scale": {
            "domain": ["x", "o"],
            "range": ["M-1,-0.7L-0.7,-1L0,-0.3L0.7,-1L1,-0.7L0.3,0L1,0.7L0.7,1L0,0.3L-0.7,1L-1,0.7L-0.3,0Z", "circle"]
          },
          "legend": null
        }
      }
    }
  ]
}
